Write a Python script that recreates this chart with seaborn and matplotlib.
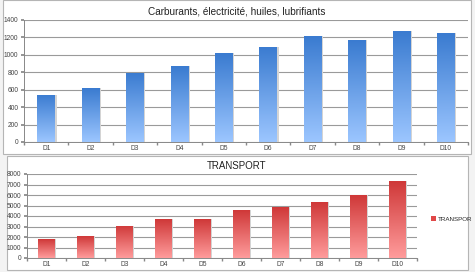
import numpy as np
import pandas as pd
import matplotlib
matplotlib.use("Agg")
import matplotlib.pyplot as plt
from matplotlib.patches import Rectangle
from matplotlib.colors import LinearSegmentedColormap
import seaborn as sns

# données
deciles = ["D1", "D2", "D3", "D4", "D5", "D6", "D7", "D8", "D9", "D10"]
carburants = [540, 615, 795, 870, 1020, 1095, 1215, 1165, 1272, 1246]
transport = [1800, 2060, 3050, 3690, 3690, 4560, 4840, 5320, 5960, 7310]

sns.set_theme(style="white")
plt.rcParams['font.family'] = ['Liberation Sans', 'DejaVu Sans']

fig = plt.figure(figsize=(4.75, 2.72), dpi=100)
fig.patch.set_facecolor("#f3f3f3")

W, H = 475, 272


def fig_rect(x0, y0, x1, y1):
    # pixels (origine en haut à gauche) -> coordonnées figure
    return [x0 / W, 1 - y1 / H, (x1 - x0) / W, (y1 - y0) / H]


# cadres blancs des deux graphiques
for (x0, y0, x1, y1) in [(3, 0, 471, 154), (7, 156, 468, 270)]:
    r = fig_rect(x0, y0, x1, y1)
    fig.patches.append(Rectangle((r[0], r[1]), r[2], r[3], transform=fig.transFigure,
                                 facecolor="white", edgecolor="#b5b5b5", lw=0.8,
                                 zorder=-5))


def gradient_bars(ax, top_col, bot_col):
    cmap = LinearSegmentedColormap.from_list("g", [bot_col, top_col])
    grad = np.linspace(0, 1, 256).reshape(-1, 1)
    for p in list(ax.patches):
        x, y = p.get_x(), p.get_y()
        w, h = p.get_width(), p.get_height()
        # ombre légère à droite
        sh = Rectangle((x + w * 0.08, y), w, h, facecolor="#d4d4d4", edgecolor="none", zorder=1.5)
        ax.add_patch(sh)
        p.set_facecolor("none")
        p.set_edgecolor("none")
        im = ax.imshow(grad, extent=[x, x + w, y, y + h], origin="lower", cmap=cmap,
                       aspect="auto", zorder=2)
        im.set_clip_path(p)
        p.set_zorder(2)


def style_axes(ax, ymax, step):
    ax.set_xlim(-0.5, len(deciles) - 0.5)
    ax.set_ylim(0, ymax)
    ax.set_yticks(np.arange(0, ymax + 1, step))
    ax.yaxis.grid(True, color="#9a9a9a", lw=0.8)
    ax.set_axisbelow(True)
    for s in ["top", "right"]:
        ax.spines[s].set_visible(False)
    for s in ["left", "bottom"]:
        ax.spines[s].set_color("#888888")
        ax.spines[s].set_linewidth(0.7)
    ax.tick_params(axis="both", labelsize=4.8, colors="#444444", length=0, pad=2)
    ax.tick_params(axis="y", length=2, color="#888888", direction="out", left=True)
    ax.set_xticks(np.arange(-0.5, len(deciles), 1), minor=True)
    ax.tick_params(axis="x", which="minor", length=2, color="#888888", bottom=True)
    ax.set_xlabel("")
    ax.set_ylabel("")
    ax.set_facecolor("none")


# graphique du haut
ax1 = fig.add_axes(fig_rect(24, 20, 468, 142))
df1 = pd.DataFrame({"decile": deciles, "valeur": carburants})
sns.barplot(data=df1, x="decile", y="valeur", ax=ax1, width=0.4, color="#3d7fd3")
style_axes(ax1, 1400, 200)
gradient_bars(ax1, "#3a7bd0", "#9cc6ff")
ax1.set_xlim(-0.5, len(deciles) - 0.5)
ax1.set_ylim(0, 1400)
fig.text(237 / W, 1 - 11 / H, "Carburants, électricité, huiles, lubrifiants",
         ha="center", va="center", fontsize=7.2, color="#222222")

# graphique du bas
ax2 = fig.add_axes(fig_rect(27, 174, 417, 258))
df2 = pd.DataFrame({"decile": deciles, "valeur": transport})
sns.barplot(data=df2, x="decile", y="valeur", ax=ax2, width=0.43, color="#d23c3c")
style_axes(ax2, 8000, 1000)
gradient_bars(ax2, "#cf3838", "#ff9c9c")
ax2.set_xlim(-0.5, len(deciles) - 0.5)
ax2.set_ylim(0, 8000)
fig.text(237 / W, 1 - 166 / H, "TRANSPORT", ha="center", va="center",
         fontsize=7, color="#222222")

handles = [Rectangle((0, 0), 1, 1, facecolor="#e04848", edgecolor="none")]
fig.legend(handles, ["TRANSPOR"], loc="center left", bbox_to_anchor=(428 / W, 1 - 219 / H),
           frameon=False, fontsize=4.5, handlelength=0.8, handleheight=0.8,
           handletextpad=0.3, borderaxespad=0)

plt.savefig("out.png", dpi=100, facecolor=fig.get_facecolor())
